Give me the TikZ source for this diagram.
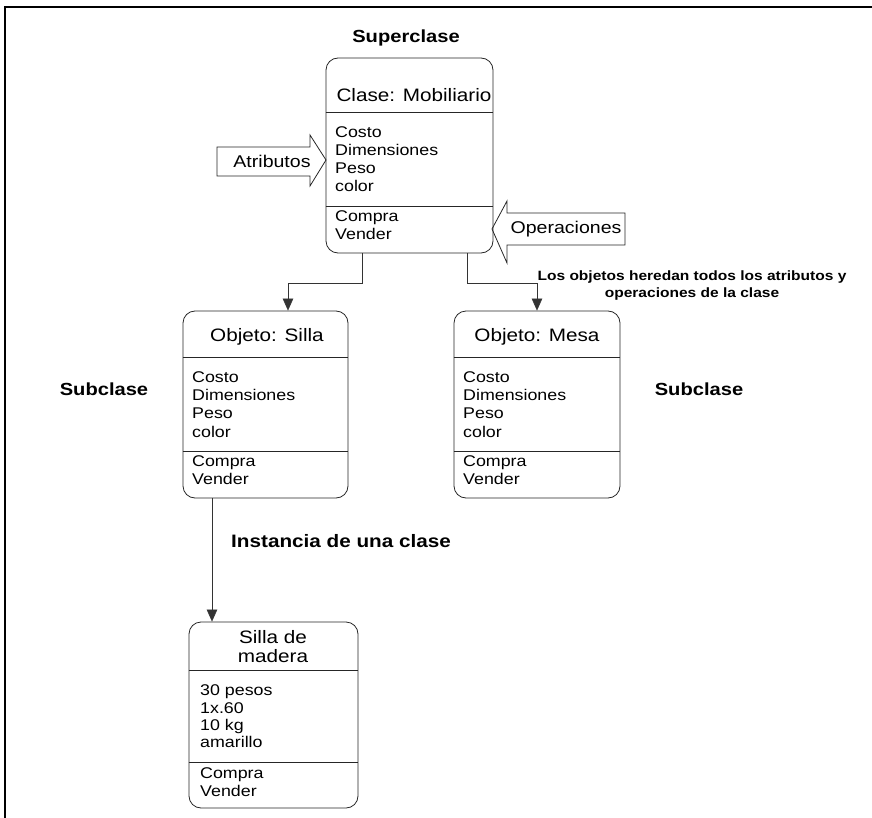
\documentclass[tikz,border=0pt]{standalone}
\usepackage{fontspec}
\setmainfont{Liberation Sans}[FakeStretch=1.15]
\usetikzlibrary{arrows.meta}
\begin{document}
\begin{tikzpicture}[x=1pt,y=-1pt,
  box/.style={draw=black!85, line width=0.8pt, rounded corners=12pt, inner sep=0pt},
  sep/.style={draw=black!85, line width=0.8pt},
  conn/.style={draw=black!80, line width=0.6pt},
  arr/.style={conn, -{Triangle[width=10.5pt,length=12pt]}},
  lbl/.style={font=\fontsize{17.5}{20}\selectfont\bfseries, inner sep=0pt},
  ttl/.style={font=\fontsize{18}{18.5}\selectfont, inner sep=0pt, align=center},
  bd/.style={font=\fontsize{15.5}{18}\selectfont, anchor=base west, inner sep=0pt},
  blk/.style={draw=black!85, line width=0.8pt, line join=miter},
  blktxt/.style={font=\fontsize{17}{20}\selectfont, inner sep=0pt}
]
\useasboundingbox (0,0) rectangle (872,818);
% frame
\draw[line width=2pt] (5,818) -- (5,7) -- (872,7);

% labels
\node[lbl] (sup) at (406,38) {Superclase};
\node[lbl] (subL) at (104,389) {Subclase};
\node[lbl] (subR) at (699,389) {Subclase};
\node[lbl, anchor=west, font=\fontsize{18}{20}\selectfont\bfseries] (inst lbl) at (231,541) {Instancia de una clase};
\node[font=\fontsize{13.5}{17}\selectfont\bfseries, align=center, inner sep=0pt] (note) at (692,285.5)
  {Los objetos heredan todos los atributos y\\operaciones de la clase};

% ---- superclass box
\node[box, minimum width=167pt, minimum height=195pt] (mob) at (409.5,155.5) {};
\node[ttl] (mobT) at (414,95) {Clase: Mobiliario};
\draw[sep] (mob.west |- 0,112) -- (mob.east |- 0,112);
\draw[sep] (mob.west |- 0,206) -- (mob.east |- 0,206);
\node[bd] (mob1) at (335,137.5) {Costo};
\node[bd] (mob2) at (335,155.5) {Dimensiones};
\node[bd] (mob3) at (335,173.5) {Peso};
\node[bd] (mob4) at (335,192) {color};
\node[bd] (mob5) at (335,222) {Compra};
\node[bd] (mob6) at (335,239.5) {Vender};

% block arrows
\draw[blk] (217,147) -- (310,147) -- (310,135) -- (326,160) -- (310,186) -- (310,176) -- (217,176) -- cycle;
\node[blktxt] (atr) at (272,161) {Atributos};
\draw[blk] (625,213) -- (507,213) -- (507,201) -- (492,229) -- (507,263) -- (507,245) -- (625,245) -- cycle;
\node[blktxt] (ops) at (566,229) {Operaciones};

% ---- silla
\node[box, minimum width=165pt, minimum height=187pt] (silla) at (265.5,404.5) {};
\node[ttl] (sillaT) at (267,337) {Objeto: Silla};
\draw[sep] (silla.west |- 0,357) -- (silla.east |- 0,357);
\draw[sep] (silla.west |- 0,451) -- (silla.east |- 0,451);
\node[bd] (silla1) at (192,382.5) {Costo};
\node[bd] (silla2) at (192,400.5) {Dimensiones};
\node[bd] (silla3) at (192,418.5) {Peso};
\node[bd] (silla4) at (192,437) {color};
\node[bd] (silla5) at (192,466.5) {Compra};
\node[bd] (silla6) at (192,484) {Vender};

% ---- mesa
\node[box, minimum width=166pt, minimum height=187pt] (mesa) at (537,404.5) {};
\node[ttl] (mesaT) at (537,337) {Objeto: Mesa};
\draw[sep] (mesa.west |- 0,357) -- (mesa.east |- 0,357);
\draw[sep] (mesa.west |- 0,451) -- (mesa.east |- 0,451);
\node[bd] (mesa1) at (463,382.5) {Costo};
\node[bd] (mesa2) at (463,400.5) {Dimensiones};
\node[bd] (mesa3) at (463,418.5) {Peso};
\node[bd] (mesa4) at (463,437) {color};
\node[bd] (mesa5) at (463,466.5) {Compra};
\node[bd] (mesa6) at (463,484) {Vender};

% ---- instance
\node[box, minimum width=169pt, minimum height=186pt] (inst) at (273.5,715) {};
\node[ttl] (instT) at (273,646.5) {Silla de\\madera};
\draw[sep] (inst.west |- 0,670) -- (inst.east |- 0,670);
\draw[sep] (inst.west |- 0,762) -- (inst.east |- 0,762);
\node[bd] (inst1) at (200,695) {30 pesos};
\node[bd] (inst2) at (200,713) {1x.60};
\node[bd] (inst3) at (200,730) {10 kg};
\node[bd] (inst4) at (200,747) {amarillo};
\node[bd] (inst5) at (200,778.5) {Compra};
\node[bd] (inst6) at (200,796) {Vender};

% connectors
\draw[arr] ([xshift=-47.5pt]mob.south) -- ++(0,30) -| ([xshift=22.5pt]silla.north);
\draw[arr] ([xshift=57.5pt]mob.south) -- ++(0,30) -| (mesa.north);
\coordinate (s1) at ([xshift=-53.5pt]silla.south);
\draw[arr] (s1) -- (s1 |- inst.north);
\end{tikzpicture}
\end{document}
